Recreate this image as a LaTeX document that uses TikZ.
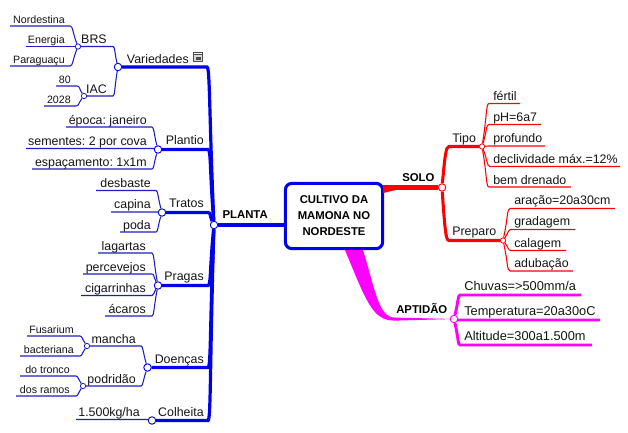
\documentclass[tikz,border=0pt]{standalone}
\usepackage{fontspec}
\setmainfont{Liberation Sans}
\usetikzlibrary{calc}
\definecolor{bluebr}{RGB}{0,0,235}
\definecolor{bluetw}{RGB}{30,30,190}
\definecolor{redbr}{RGB}{255,0,0}
\definecolor{magbr}{RGB}{255,0,255}
\tikzset{
  x=.75pt,y=-.75pt,
  bigtxt/.style={font=\fontsize{9.3pt}{11pt}\selectfont,inner sep=0pt,text=black!92},
  magtxt/.style={font=\fontsize{9.6pt}{11pt}\selectfont,inner sep=0pt,text=black!92},
  smalltxt/.style={font=\fontsize{8pt}{10pt}\selectfont,inner sep=0pt,text=black!92},
  boldtxt/.style={font=\fontsize{8.5pt}{10pt}\selectfont\bfseries,inner sep=0pt},
  junc/.style={circle,draw=#1,fill=white,line width=.6pt,inner sep=0pt,minimum size=4pt},
  bigjunc/.style={circle,draw=#1,fill=white,line width=.7pt,inner sep=0pt,minimum size=5.6pt},
  thin blue/.style={draw=bluetw,line width=.8pt},
  mid blue/.style={draw=bluebr,line width=2.4pt},
  thin red/.style={draw=redbr,line width=.8pt},
  mid red/.style={draw=redbr,line width=2.3pt},
  mid mag/.style={draw=magbr,line width=2.2pt},
}
% limb: from a named point along a horizontal run to x2, then bending into the target junction
\newcommand\limb[6]{%
  \coordinate (bend) at (#2,#3);
  \draw[#6] (#1) -- (bend) .. controls +(#5,0) and ($(bend)!.3!(#4)$) .. (#4);}
% twig: same, starting from a free end created here
\newcommand\twig[7]{%
  \coordinate (#1) at (#2,#4);
  \limb{#1}{#3}{#4}{#5}{#6}{#7}}
\newcommand\lblR[5][bigtxt]{\node[#1,anchor=base east] (#2) at (#3,#4) {\frenchspacing #5};}
\newcommand\lblL[5][bigtxt]{\node[#1,anchor=base west] (#2) at (#3,#4) {\frenchspacing #5};}
\begin{document}
\begin{tikzpicture}
\useasboundingbox (0,0) rectangle (628,432);

% central topic
\node[draw=bluebr,line width=2.3pt,rounded corners=5pt,fill=white,minimum width=73pt,minimum height=49pt,
      inner sep=0pt,align=center,font=\fontsize{8.5pt}{12pt}\selectfont\bfseries] (root) at (334,216)
      {CULTIVO DA\\MAMONA NO\\NORDESTE};

% junctions
\node[bigjunc=bluebr] (jPlanta) at (214,225) {};
\node[bigjunc=bluebr] (jVar) at (118,67) {};
\node[junc=bluetw] (jBrs) at (78,46.5) {};
\node[junc=bluetw] (jIac) at (84,96) {};
\node[bigjunc=bluebr] (jPlantio) at (158,149.5) {};
\node[bigjunc=bluebr] (jTratos) at (162,212.5) {};
\node[bigjunc=bluebr] (jPragas) at (158,285.5) {};
\node[bigjunc=bluebr] (jDoencas) at (147.5,367.5) {};
\node[junc=bluetw] (jMancha) at (87,346) {};
\node[junc=bluetw] (jPodr) at (83,386) {};
\node[bigjunc=bluebr] (jColh) at (152,420.5) {};
\node[bigjunc=redbr] (jSolo) at (442,187.5) {};
\node[junc=redbr] (jTipo) at (482,146.5) {};
\node[junc=redbr] (jPrep) at (503,240.5) {};
\node[bigjunc=magbr] (jApt) at (454,319) {};

% main stems
\draw[draw=bluebr,line width=3.5pt] (jPlanta) -- (jPlanta -| root.west);
\draw[draw=redbr,line width=3.6pt] (jSolo) -- ($(root.east)+(12,-28.5)$) coordinate (solobase);
\fill[redbr] ($(root.east)+(-1,-31)$) -- ($(solobase)+(0,-2.4)$) -- ($(solobase)+(0,2.4)$) -- ($(root.east)+(-1,-23)$) -- cycle;
\fill[magbr] ($(root.south)+(11,0)$) -- ($(root.south)+(29,0)$)
   .. controls (375,288) and (378,317.5) .. (395,317.6) -- (jApt.center) -- (395,320.6)
   .. controls (372,321) and (366,300) .. ($(root.south)+(11,0)$) -- cycle;

% branches on the left
\limb{jVar}{207}{67}{jPlanta}{3}{mid blue}
\limb{jPlantio}{208}{149.5}{jPlanta}{3}{mid blue}
\limb{jTratos}{208}{212.5}{jPlanta}{3}{mid blue}
\limb{jPragas}{208}{285.5}{jPlanta}{3}{mid blue}
\limb{jDoencas}{208}{367.5}{jPlanta}{3}{mid blue}
\limb{jColh}{208}{420.5}{jPlanta}{3}{mid blue}
\limb{jBrs}{113}{46.5}{jVar}{2}{thin blue}
\limb{jIac}{113}{96}{jVar}{2}{thin blue}
\limb{jMancha}{141}{346}{jDoencas}{2}{thin blue}
\limb{jPodr}{141}{386}{jDoencas}{2}{thin blue}

\twig{tNord}{10}{70}{26}{jBrs}{3}{thin blue}
\twig{tEner}{26}{74}{46.5}{jBrs}{1}{thin blue}
\twig{tPara}{10}{70}{66}{jBrs}{3}{thin blue}
\twig{tOit}{56}{77}{86}{jIac}{3}{thin blue}
\twig{tDois}{44}{76}{106}{jIac}{3}{thin blue}
\twig{tEpoca}{66}{152}{127}{jPlantio}{2}{thin blue}
\twig{tSem}{26}{154}{148.5}{jPlantio}{1}{thin blue}
\twig{tEsp}{32}{152}{169}{jPlantio}{2}{thin blue}
\twig{tDesb}{96}{156}{190.5}{jTratos}{2}{thin blue}
\twig{tCap}{111}{158}{212}{jTratos}{1}{thin blue}
\twig{tPoda}{120}{156}{232}{jTratos}{2}{thin blue}
\twig{tLag}{98}{152}{253}{jPragas}{2}{thin blue}
\twig{tPerc}{83}{152}{274}{jPragas}{2}{thin blue}
\twig{tCig}{81}{152}{295.5}{jPragas}{2}{thin blue}
\twig{tAca}{105}{152}{316}{jPragas}{2}{thin blue}
\twig{tFus}{27}{80}{336}{jMancha}{2}{thin blue}
\twig{tBac}{20}{80}{356}{jMancha}{2}{thin blue}
\twig{tTron}{20}{76}{376}{jPodr}{2}{thin blue}
\twig{tRam}{16}{76}{396}{jPodr}{2}{thin blue}
\twig{tKg}{76}{148}{419.5}{jColh}{1}{thin blue}

% branches on the right
\draw[mid red] (jTipo) -- (449,146.5) .. controls (446,146.5) and (445,155) .. (jSolo);
\draw[mid red] (jPrep) -- (449,240.5) .. controls (446,240.5) and (445,232) .. (jSolo);

\twig{tFert}{520}{489}{103.5}{jTipo}{-3}{thin red}
\twig{tPh}{541}{489}{124.5}{jTipo}{-3}{thin red}
\twig{tProf}{545}{488}{146}{jTipo}{-2}{thin red}
\twig{tDecl}{620}{490}{166.5}{jTipo}{-3}{thin red}
\twig{tBem}{571}{489}{187}{jTipo}{-3}{thin red}
\twig{tArac}{615}{510}{208.5}{jPrep}{-3}{thin red}
\twig{tGrad}{575}{511}{229.5}{jPrep}{-3}{thin red}
\twig{tCal}{566}{511}{250.5}{jPrep}{-3}{thin red}
\twig{tAdub}{573}{510}{271}{jPrep}{-3}{thin red}
\twig{tChuv}{581}{460}{295}{jApt}{-2}{mid mag}
\twig{tTemp}{600}{458}{320}{jApt}{-1}{mid mag}
\twig{tAlt}{592}{460}{345}{jApt}{-2}{mid mag}

% labels on the left
\lblR{lVar}{189}{63}{Variedades}
\lblR[smalltxt]{lNord}{65}{23}{Nordestina}
\lblR[smalltxt]{lEner}{65}{43}{Energia}
\lblR[smalltxt]{lPara}{65}{63}{Paraguaçu}
\lblR{lBrs}{107}{43}{BRS}
\lblR{lIac}{107}{93}{IAC}
\lblR[smalltxt]{lOit}{71}{83}{80}
\lblR[smalltxt]{lDois}{71}{103}{2028}
\lblR{lPlant}{204}{144}{Plantio}
\lblR[bigtxt]{lEpoca}{147}{124}{época: janeiro}
\lblR[bigtxt]{lSem}{147}{145}{sementes: 2 por cova}
\lblR[bigtxt]{lEsp}{147}{166}{espaçamento: 1x1m}
\lblR{lTrat}{204}{207}{Tratos}
\lblR{lDesb}{151}{187}{desbaste}
\lblR{lCap}{151}{208}{capina}
\lblR{lPoda}{151}{229}{poda}
\lblR{lPrag}{204}{280}{Pragas}
\lblR{lLag}{146}{250}{lagartas}
\lblR{lPerc}{146}{271}{percevejos}
\lblR{lCig}{146}{292}{cigarrinhas}
\lblR{lAca}{146}{313}{ácaros}
\lblR{lDoen}{204}{363}{Doenças}
\lblR{lManc}{136}{343}{mancha}
\lblR{lPodr}{136}{383}{podridão}
\lblR[smalltxt]{lFus}{74}{333}{Fusarium}
\lblR[smalltxt]{lBac}{74}{353}{bacteriana}
\lblR[smalltxt]{lTron}{70}{373}{do tronco}
\lblR[smalltxt]{lRam}{70}{393}{dos ramos}
\lblR{lColh}{204}{416}{Colheita}
\lblR{lKg}{140}{416}{1.500kg/ha}

% labels in the middle
\lblR[boldtxt]{lPlanta}{268}{218}{PLANTA}
\lblL[boldtxt]{lSolo}{402}{181}{SOLO}
\lblL[boldtxt]{lApt}{396}{313}{APTIDÃO}

% labels on the right
\lblL{lTipo}{452}{142}{Tipo}
\lblL{lFert}{493}{100}{fértil}
\lblL{lPh}{493}{121}{pH=6a7}
\lblL{lProf}{493}{142}{profundo}
\lblL{lDecl}{493}{163}{declividade máx.=12\%}
\lblL{lBem}{493}{184}{bem drenado}
\lblL{lPrep}{452}{235}{Preparo}
\lblL{lArac}{514}{204}{aração=20a30cm}
\lblL{lGrad}{514}{225}{gradagem}
\lblL{lCal}{514}{247}{calagem}
\lblL{lAdub}{514}{267}{adubação}
\lblL[magtxt]{lChuv}{464}{290}{Chuvas=>500mm/a}
\lblL[magtxt]{lTemp}{464}{315}{Temperatura=20a30oC}
\lblL[magtxt]{lAlt}{464}{340}{Altitude=300a1.500m}

% small calculator icon beside the topic name
\fill[black!70] (193,52) rectangle (203,62);
\fill[black!15] (194,55) rectangle (202,61);
\fill[white] (194,53) rectangle (202,54);
\fill[black!70] (195.5,57) rectangle (200.5,59.5);
\end{tikzpicture}
\end{document}
